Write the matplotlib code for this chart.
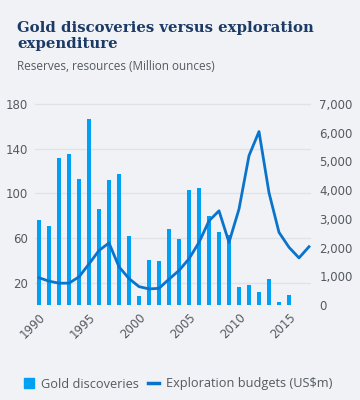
import numpy as np
import matplotlib.pyplot as plt
from matplotlib.lines import Line2D
from matplotlib.patches import Patch

# --- Dados ---
anos_barras = list(range(1990, 2016))
descobertas = [76, 71, 132, 135, 113, 167, 86, 112, 117, 62,
               8, 40, 39, 68, 59, 103, 105, 80, 65, 63,
               16, 18, 12, 23, 3, 9]

anos_linha = list(range(1990, 2018))
orcamento = [950, 830, 760, 760, 980, 1430, 1900, 2160, 1330, 920,
             640, 560, 580, 900, 1200, 1610, 2180, 2930, 3280, 2180,
             3340, 5200, 6040, 3910, 2530, 2010, 1640, 2030]

ticks_esq = [20, 60, 100, 140, 180]
ticks_dir = [0, 1000, 2000, 3000, 4000, 5000, 6000, 7000]
ticks_x = [1990, 1995, 2000, 2005, 2010, 2015]

FUNDO = '#f0f2f5'
AZUL_BARRA = '#00a0f5'
AZUL_LINHA = '#0a74cc'
CINZA = '#555a60'

fig = plt.figure(figsize=(3.6, 4.0), dpi=100, facecolor=FUNDO)
ax = fig.add_axes([35 / 360, 1 - 305 / 400, 276 / 360, 203 / 400])
ax.set_facecolor(FUNDO)

ax.bar(anos_barras, descobertas, width=0.45, color=AZUL_BARRA, zorder=2)
ax.set_xlim(1989.6, 2017.2)
ax.set_ylim(0, 181.8)
ax.set_yticks(ticks_esq)
ax.grid(axis='y', color='#dfe2e7', lw=0.9, zorder=0)
ax.tick_params(axis='y', length=0, labelsize=8.5, labelcolor=CINZA, pad=5)
ax.set_xticks(ticks_x)
ax.set_xticklabels([str(t) for t in ticks_x], rotation=45, ha='right',
                   rotation_mode='anchor', fontsize=8.5, color=CINZA)
ax.tick_params(axis='x', length=0, pad=4)
for s in ax.spines.values():
    s.set_visible(False)

ax2 = ax.twinx()
ax2.plot(anos_linha, orcamento, color=AZUL_LINHA, lw=2.0, zorder=3)
ax2.set_ylim(0, 7070)
ax2.set_yticks(ticks_dir)
ax2.set_yticklabels([f'{t:,}' for t in ticks_dir])
ax2.tick_params(axis='y', length=0, labelsize=8.5, labelcolor=CINZA, pad=6)
for s in ax2.spines.values():
    s.set_visible(False)

fig.text(17 / 360, 1 - 36 / 400, 'Gold discoveries versus exploration\nexpenditure',
         fontsize=10.7, fontweight='bold', family='DejaVu Serif', color='#1b3a66',
         va='center', ha='left', linespacing=1.15)
fig.text(17 / 360, 1 - 66 / 400, 'Reserves, resources (Million ounces)',
         fontsize=8.5, color=CINZA, va='center', ha='left', family='Open Sans')

alcas = [Patch(color=AZUL_BARRA),
         Line2D([0], [0], color=AZUL_LINHA, lw=2.5)]
fig.legend(alcas, ['Gold discoveries', 'Exploration budgets (US$m)'],
           loc='center left', bbox_to_anchor=(12 / 360, 1 - 384 / 400),
           ncol=2, frameon=False, labelcolor=CINZA,
           handlelength=0.85, handleheight=0.85, handletextpad=0.55, columnspacing=0.7,
           prop={'family': 'Open Sans', 'size': 9.2})

fig.savefig('out.png', dpi=100, facecolor=FUNDO)
